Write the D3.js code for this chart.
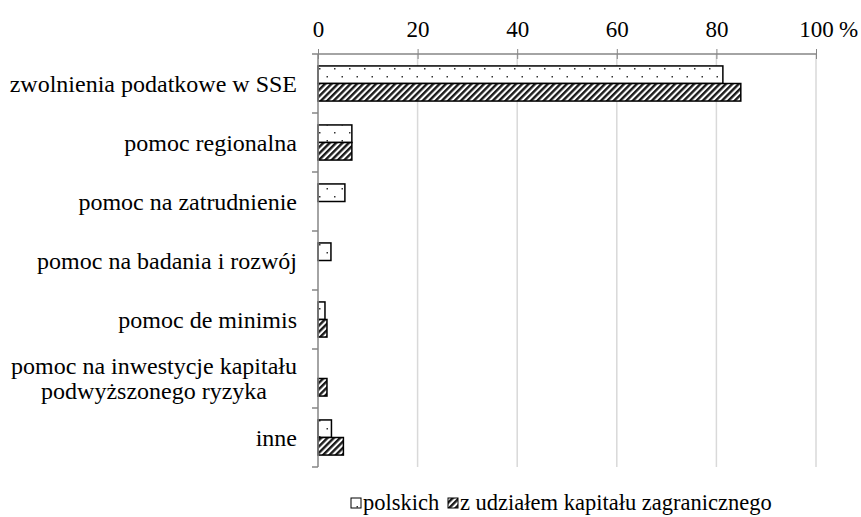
<!DOCTYPE html>
<html>
<head>
<meta charset="utf-8">
<script src="https://cdn.jsdelivr.net/npm/d3@7"></script>
<style>
body { margin: 0; background: #fff; }
svg text { font-family: 'Liberation Serif', 'Times New Roman', serif; fill: #000; }
</style>
</head>
<body>
<div id="chart"></div>
<script>
"use strict";
// data (percent)
const categories = [
    ['zwolnienia podatkowe w SSE'],
    ['pomoc regionalna'],
    ['pomoc na zatrudnienie'],
    ['pomoc na badania i rozwój'],
    ['pomoc de minimis'],
    ['pomoc na inwestycje kapitału', 'podwyższonego ryzyka'],
    ['inne']
];
const polskich = [81.3, 6.8, 5.4, 2.6, 1.4, 0, 2.7];
const zagraniczne = [84.9, 6.8, 0, 0, 1.8, 1.8, 5.1];
const ticks = [0, 20, 40, 60, 80, 100];
const seriesNames = ['polskich', 'z udziałem kapitału zagranicznego'];

const width = 861, height = 517;
const margin = { top: 54, left: 318, right: 45, bottom: 50 };
const plotBottom = 467;

const svg = d3.select('#chart')
    .append('svg')
    .attr('width', width)
    .attr('height', height);

// patterns
const defs = svg.append('defs');
const dots = defs.append('pattern')
    .attr('id', 'dots')
    .attr('patternUnits', 'userSpaceOnUse')
    .attr('width', 15)
    .attr('height', 16);
dots.append('rect').attr('width', 15).attr('height', 16).attr('fill', '#fff');
dots.append('rect').attr('x', 4).attr('y', 4).attr('width', 1.5).attr('height', 1.5).attr('fill', '#333');
dots.append('rect').attr('x', 11.5).attr('y', 12).attr('width', 1.5).attr('height', 1.5).attr('fill', '#333');

const hatch = defs.append('pattern')
    .attr('id', 'hatch')
    .attr('patternUnits', 'userSpaceOnUse')
    .attr('width', 4.5)
    .attr('height', 4.5)
    .attr('patternTransform', 'rotate(45)');
hatch.append('rect').attr('width', 4.5).attr('height', 4.5).attr('fill', '#fff');
hatch.append('rect').attr('width', 2.4).attr('height', 4.5).attr('fill', '#1a1a1a');

const x = d3.scaleLinear()
    .domain([0, 100])
    .range([margin.left, width - margin.right]);

const y = d3.scaleBand()
    .domain(d3.range(categories.length))
    .range([margin.top, plotBottom]);

const inner = d3.scaleBand()
    .domain([0, 1])
    .range([0, y.bandwidth()])
    .paddingOuter(0.68);

// gridlines
svg.append('g')
    .selectAll('line')
    .data(ticks.slice(1))
    .enter()
    .append('line')
    .attr('x1', d => x(d)).attr('x2', d => x(d))
    .attr('y1', margin.top).attr('y2', plotBottom)
    .attr('stroke', '#d9d9d9')
    .attr('stroke-width', 1.5);

// bars
const series = [polskich, zagraniczne];
const fills = ['url(#dots)', 'url(#hatch)'];
series.forEach(function (vals, si) {
    svg.append('g')
        .selectAll('rect')
        .data(vals.map((v, i) => ({ v: v, i: i })).filter(d => d.v > 0))
        .enter()
        .append('rect')
        .attr('x', x(0))
        .attr('y', d => y(d.i) + inner(si))
        .attr('width', d => x(d.v) - x(0))
        .attr('height', inner.bandwidth())
        .attr('fill', fills[si])
        .attr('stroke', '#000')
        .attr('stroke-width', 1.5);
});

// top axis
const xAxis = d3.axisTop(x)
    .tickValues(ticks)
    .tickSize(5)
    .tickFormat(d3.format('d'));
const gx = svg.append('g')
    .attr('transform', 'translate(0,' + margin.top + ')')
    .call(xAxis);
gx.attr('font-family', null).attr('font-size', null);
gx.select('.domain').attr('stroke', '#868686').attr('stroke-width', 1.5)
    .attr('d', 'M' + x(0) + ',0H' + x(100));
gx.selectAll('.tick line').attr('stroke', '#868686').attr('y1', 5).attr('y2', -5);
gx.selectAll('.tick text')
    .attr('y', -17)
    .attr('dy', null)
    .style('font-size', '23px');
svg.append('text')
    .attr('x', x(100) + 23)
    .attr('y', 37)
    .style('font-size', '23px')
    .text('%');

// left axis
const gy = svg.append('g');
gy.append('line')
    .attr('x1', x(0)).attr('x2', x(0))
    .attr('y1', margin.top).attr('y2', plotBottom)
    .attr('stroke', '#868686').attr('stroke-width', 1.5);
gy.selectAll('.ytick')
    .data(d3.range(categories.length + 1))
    .enter()
    .append('line')
    .attr('x1', x(0) - 6).attr('x2', x(0))
    .attr('y1', d => margin.top + d * y.step())
    .attr('y2', d => margin.top + d * y.step())
    .attr('stroke', '#868686').attr('stroke-width', 1.5);

// category labels
const labelRight = 297;
const lineH = 25;
categories.forEach(function (lines, i) {
    const cy = y(i) + y.bandwidth() / 2;
    const t = svg.append('text')
        .style('font-size', '24px')
        .attr('text-anchor', 'middle');
    lines.forEach(function (s, li) {
        t.append('tspan')
            .attr('x', 0)
            .attr('y', cy + 8 + (li - (lines.length - 1) / 2) * lineH)
            .text(s);
    });
    const w = t.node().getBBox().width;
    t.attr('transform', 'translate(' + (labelRight - w / 2) + ',0)');
});

// legend
const legend = svg.append('g').attr('transform', 'translate(0,510)');
const legendX = [351, 448];
seriesNames.forEach(function (name, i) {
    legend.append('rect')
        .attr('x', legendX[i])
        .attr('y', -12)
        .attr('width', 10)
        .attr('height', 10)
        .attr('fill', fills[i])
        .attr('stroke', '#000')
        .attr('stroke-width', 1);
    legend.append('text')
        .attr('x', legendX[i] + 12)
        .attr('y', 0)
        .style('font-size', '22.5px')
        .text(name);
});
</script>
</body>
</html>
